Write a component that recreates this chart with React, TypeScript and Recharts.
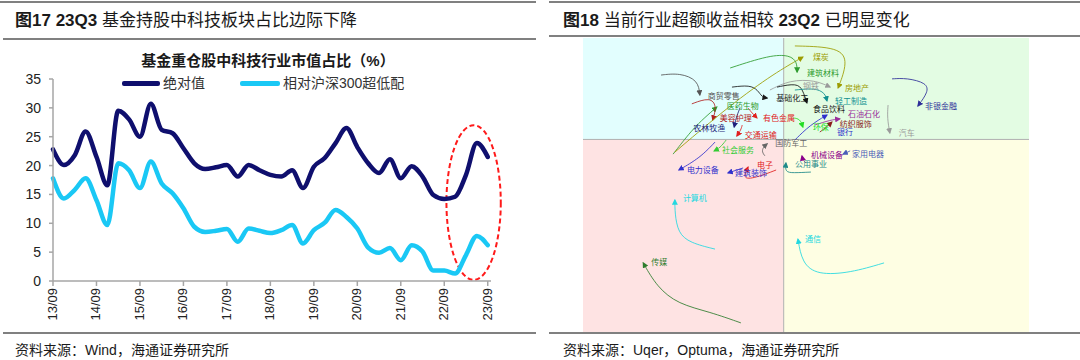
import React from 'react';
import { LineChart, Line, XAxis, YAxis, ReferenceArea, ReferenceLine, ComposedChart } from 'recharts';

const SANS = "'Liberation Sans', Arial, 'Noto Sans CJK SC', sans-serif";

// 图17：基金重仓股中科技行业市值占比（%），季度数据 13Q3 - 23Q3
const yearTicks = [0, 4, 8, 12, 16, 20, 24, 28, 32, 36, 40];
const yearLabels = ['13/09', '14/09', '15/09', '16/09', '17/09', '18/09', '19/09', '20/09', '21/09', '22/09', '23/09'];
const shareTicks = [0, 5, 10, 15, 20, 25, 30, 35];

const absoluteShare = [
  22.8, 20.1, 21.8, 25.9, 21.5, 16.6, 29.5, 28.0, 25.0, 30.7, 26.2, 25.6, 23.0, 20.4,
  19.4, 19.7, 20.1, 18.1, 20.1, 19.2, 18.4, 18.1, 19.2, 16.1, 19.8, 21.3, 23.9, 26.5,
  23.2, 20.4, 18.7, 21.1, 17.8, 19.9, 18.1, 14.9, 14.2, 14.6, 18.4, 23.9, 21.5,
];
const relativeShare = [
  17.8, 14.3, 15.8, 17.8, 14.0, 9.7, 20.4, 19.2, 16.1, 20.7, 16.9, 15.2, 12.6, 9.4,
  8.5, 8.7, 9.0, 6.8, 9.1, 8.7, 8.3, 8.8, 9.7, 6.5, 8.8, 10.1, 12.3, 11.1,
  9.1, 5.8, 4.9, 5.7, 3.6, 6.2, 5.1, 1.8, 1.8, 1.3, 4.5, 7.8, 6.2,
];

// 红色虚线圈出的区间（季度序号 / 占比）
const highlightQuarters = [36.2, 41.2];
const highlightShare = [0.2, 27];

const lineData = absoluteShare.map((v, i) => ({ q: i, abs: v, rel: relativeShare[i] }));

// 图18：行业相对强弱轨迹（RS-Ratio / RS-Momentum，中心 100）
const ratioDomain = [95.5, 105.5];
const momentumDomain = [93.45, 103.45];

const industryNames = [
  '商贸零售', '医药生物', '美容护理', '农林牧渔', '交通运输', '有色金属', '基础化工', '煤炭',
  '建筑材料', '房地产', '钢铁', '食品饮料', '轻工制造', '石油石化', '纺织服饰', '环保',
  '银行', '非银金融', '汽车', '国防军工', '社会服务', '电力设备', '电子', '建筑装饰',
  '计算机', '传媒', '机械设备', '家用电器', '公用事业', '通信',
];

const rsRatio = [
  [97.25, 97.67, 98.08, 98.12],
  [97.52, 97.94, 98.24, 98.5],
  [97.94, 98.35, 98.5, 98.41],
  [99.02, 98.93, 98.89],
  [99.07, 99.04, 98.95],
  [99.2, 99.29, 99.4],
  [98.84, 99.24, 99.42, 99.51, 99.63],
  [97.56, 98.8, 99.8, 100.43],
  [98.8, 99.69, 100.14, 100.3, 100.3],
  [100.25, 101.26, 101.44, 101.22],
  [99.69, 100.14, 100.7, 101.04],
  [99.85, 100.3, 100.43, 100.52],
  [100.25, 100.7, 100.93, 100.97],
  [100.7, 101.04, 101.26],
  [100.81, 100.99, 101.08],
  [100.21, 100.37, 100.43],
  [100.25, 100.59, 100.97],
  [102.43, 102.76, 103.21, 103.24, 103.01],
  [102.34, 102.32, 102.38],
  [99.58, 99.51, 99.54, 99.63],
  [98.71, 98.57, 98.44],
  [98.46, 98.12, 97.65],
  [99.83, 99.42, 99.07, 99.2],
  [99.09, 98.75],
  [98.46, 97.9, 97.63, 97.56, 97.56],
  [99.04, 98.35, 97.63, 97.16, 96.85],
  [100.5, 100.43, 100.41],
  [101.49, 101.33],
  [100.61, 100.21, 100.03, 100.05],
  [102.25, 101.49, 100.75, 100.41, 100.32],
];

const rsMomentum = [
  [102.19, 102.26, 102.02, 101.51],
  [99.5, 100.32, 100.76, 101.1],
  [101.21, 101.44, 101.14, 100.66],
  [101.07, 100.73, 100.42],
  [100.49, 100.32, 100.12],
  [101.07, 100.9, 100.73],
  [101.78, 101.85, 101.68, 101.44, 101.41],
  [99.57, 101.17, 102.26, 102.8],
  [102.43, 102.87, 102.87, 102.63, 102.29],
  [103.18, 103.14, 102.63, 101.75],
  [101.68, 102.02, 102.02, 101.78],
  [101.78, 101.92, 101.68, 101.24],
  [101.68, 101.75, 101.58, 101.31],
  [100.49, 100.66, 100.7],
  [100.25, 100.46, 100.59],
  [100.73, 100.7, 100.42],
  [99.98, 100.49, 100.83],
  [102.06, 102.09, 101.92, 101.61, 101.14],
  [101.17, 100.73, 100.22],
  [99.44, 99.57, 99.74, 99.85],
  [99.98, 99.71, 99.61],
  [99.91, 99.37, 98.96],
  [98.96, 98.72, 98.62, 99.06],
  [99.03, 98.86],
  [96.27, 96.48, 96.82, 97.5, 97.94],
  [93.76, 94.13, 94.4, 94.98, 95.8],
  [99.2, 99.3, 99.44],
  [99.61, 99.5],
  [98.89, 98.86, 98.89, 99.2],
  [95.8, 95.46, 95.39, 95.8, 96.61],
];

// styles for each trail (colour, label offset from arrow tip in px, anchor)
const industryColors = [
  '#555555', '#2E9B2E', '#B22222', '#1F1F7A', '#E02020', '#E02020', '#1A1A1A', '#9C9C00',
  '#2E9B2E', '#9C9C00', '#9A9A9A', '#111111', '#109090', '#9A2E9A', '#8B1A1A', '#22DD22',
  '#2E2ECC', '#2E2E99', '#9A9A9A', '#666666', '#33CC33', '#3030CC', '#E02020', '#3030CC',
  '#22D8E0', '#2E7D2E', '#8B008B', '#4A5DB8', '#1E8A8A', '#22D8E0',
];
const labelOffsets: [number, number, 'start' | 'end'][] = [
  [8, 1, 'start'], [10, -1, 'start'], [7, -2, 'start'], [-9, 1, 'end'], [8, 0, 'start'],
  [6, 1, 'start'], [9, 1, 'start'], [10, 0, 'start'], [10, 1, 'start'], [7, 1, 'start'],
  [-11, -1, 'end'], [6, 7, 'start'], [8, 1, 'start'], [8, -4, 'start'], [8, 2, 'start'],
  [10, 0, 'start'], [10, 17, 'start'], [7, 1, 'start'], [9, 1, 'start'], [8, 0, 'start'],
  [8, 0, 'start'], [8, 0, 'start'], [9, -2, 'start'], [7, 1, 'start'], [8, -1, 'start'],
  [8, 0, 'start'], [9, 0, 'start'], [9, 0, 'start'], [9, 2, 'start'], [7, 0, 'start'],
];

const trails = industryNames.map((name, i) =>
  rsRatio[i].map((x, j) => ({ x, y: rsMomentum[i][j] }))
);

const YearTick = ({ x, y, payload }: any) => {
  const idx = yearTicks.indexOf(payload.value);
  return (
    <text
      x={x}
      y={y}
      transform={`rotate(-90 ${x} ${y})`}
      textAnchor="end"
      dy={4}
      fontSize={13}
      fontFamily={SANS}
      fill="#222"
    >
      {yearLabels[idx]}
    </text>
  );
};

const Ellipse = (p: any) => (
  <ellipse
    cx={p.x + p.width / 2}
    cy={p.y + p.height / 2}
    rx={p.width / 2}
    ry={p.height / 2}
    fill="none"
    stroke="#FF1A1A"
    strokeWidth={2}
    strokeDasharray="5 3"
  />
);

const makeLabelDot = (i: number) => (props: any) => {
  const { cx, cy, index } = props;
  if (index !== rsRatio[i].length - 1 || cx == null) return <g key={`d-${i}-${index}`} />;
  const [dx, dy, anchor] = labelOffsets[i];
  return (
    <text
      key={`d-${i}-${index}`}
      x={cx + dx}
      y={cy + dy}
      textAnchor={anchor}
      dominantBaseline="central"
      fontSize={8}
      fontFamily={SANS}
      fill={industryColors[i]}
    >
      {industryNames[i]}
    </text>
  );
};

const rule = (left: number, top: number, width: number): React.CSSProperties => ({
  position: 'absolute', left, top, width, height: 2, background: '#808080',
});

const textBox = (left: number, top: number, size: number): React.CSSProperties => ({
  position: 'absolute', left, top, fontSize: size, lineHeight: `${size + 4}px`,
  color: '#1a1a1a', whiteSpace: 'nowrap', fontFamily: SANS,
});

export default function App() {
  return (
    <div style={{ position: 'fixed', left: 0, top: 0, width: 1080, height: 360, background: '#fff', overflow: 'hidden', fontFamily: SANS }}>
      {/* left panel frame */}
      <div style={rule(0, 1, 536)} />
      <div style={rule(3, 38, 533)} />
      <div style={rule(3, 332, 533)} />
      <div style={textBox(15, 10, 17)}>
        <b>图17 23Q3 </b>基金持股中科技板块占比边际下降
      </div>
      <div style={{ ...textBox(0, 51, 15), width: 536, textAlign: 'center', fontWeight: 600 }}>
        基金重仓股中科技行业市值占比（%）
      </div>
      <div style={{ ...textBox(122, 74, 14), display: 'flex', alignItems: 'center', color: '#333' }}>
        <span style={{ width: 38, height: 5, background: '#0F0F6E', borderRadius: 2, marginRight: 3 }} />
        <span style={{ marginRight: 35 }}>绝对值</span>
        <span style={{ width: 40, height: 5, background: '#1AC8F5', borderRadius: 2, marginRight: 3 }} />
        <span>相对沪深300超低配</span>
      </div>
      <div style={textBox(15, 341, 14)}>资料来源：Wind，海通证券研究所</div>

      <div style={{ position: 'absolute', left: 0, top: 0 }}>
        <LineChart width={540} height={360} data={lineData} margin={{ top: 79, right: 49, bottom: 34, left: 13 }}>
          <XAxis
            dataKey="q"
            type="number"
            domain={[0, 40.3]}
            ticks={yearTicks}
            interval={0}
            height={45}
            tick={<YearTick />}
            tickSize={5}
            axisLine={{ stroke: '#A6A6A6', strokeWidth: 1.5 }}
            tickLine={{ stroke: '#A6A6A6', strokeWidth: 1.5 }}
          />
          <YAxis
            type="number"
            domain={[0, 35]}
            ticks={shareTicks}
            interval={0}
            width={40}
            tickSize={4}
            tickMargin={8}
            tick={{ fill: '#222', fontSize: 14, fontFamily: SANS }}
            axisLine={{ stroke: '#A6A6A6', strokeWidth: 1.5 }}
            tickLine={{ stroke: '#A6A6A6', strokeWidth: 1.5 }}
          />
          <Line
            type="monotone"
            dataKey="abs"
            stroke="#0F0F6E"
            strokeWidth={4.5}
            strokeLinejoin="round"
            strokeLinecap="round"
            dot={false}
            activeDot={false}
            isAnimationActive={false}
          />
          <Line
            type="monotone"
            dataKey="rel"
            stroke="#1AC8F5"
            strokeWidth={4.5}
            strokeLinejoin="round"
            strokeLinecap="round"
            dot={false}
            activeDot={false}
            isAnimationActive={false}
          />
          <ReferenceArea
            x1={highlightQuarters[0]}
            x2={highlightQuarters[1]}
            y1={highlightShare[0]}
            y2={highlightShare[1]}
            ifOverflow="visible"
            shape={<Ellipse />}
          />
        </LineChart>
      </div>

      {/* right panel frame */}
      <div style={rule(549, 1, 531)} />
      <div style={rule(549, 35, 531)} />
      <div style={rule(549, 332, 531)} />
      <div style={textBox(563, 10, 17)}>
        <b>图18 </b>当前行业超额收益相较 <b>23Q2</b> 已明显变化
      </div>
      <div style={textBox(563, 341, 14)}>资料来源：Uqer，Optuma，海通证券研究所</div>

      <div style={{ position: 'absolute', left: 583, top: 38 }}>
        <ComposedChart width={446} height={294} margin={{ top: 0, right: 0, bottom: 0, left: 0 }}>
          <defs>
            {industryColors.map((c, i) => (
              <marker
                key={`m-${i}`}
                id={`arrow-${i}`}
                viewBox="0 0 10 10"
                refX="8"
                refY="5"
                markerWidth="6"
                markerHeight="6"
                markerUnits="userSpaceOnUse"
                orient="auto"
              >
                <path d="M0,0 L10,5 L0,10 z" fill={c} />
              </marker>
            ))}
          </defs>
          <XAxis dataKey="x" type="number" domain={ratioDomain} hide allowDataOverflow />
          <YAxis dataKey="y" type="number" domain={momentumDomain} hide allowDataOverflow />
          <ReferenceArea x1={ratioDomain[0]} x2={100} y1={100} y2={momentumDomain[1]} fill="#E2FEFE" fillOpacity={1} stroke="none" />
          <ReferenceArea x1={100} x2={ratioDomain[1]} y1={100} y2={momentumDomain[1]} fill="#E3FCE3" fillOpacity={1} stroke="none" />
          <ReferenceArea x1={ratioDomain[0]} x2={100} y1={momentumDomain[0]} y2={100} fill="#FEE3E3" fillOpacity={1} stroke="none" />
          <ReferenceArea x1={100} x2={ratioDomain[1]} y1={momentumDomain[0]} y2={100} fill="#FEFEE3" fillOpacity={1} stroke="none" />
          <ReferenceLine x={100} stroke="#B0B0B0" strokeWidth={1} />
          <ReferenceLine y={100} stroke="#B0B0B0" strokeWidth={1} />
          {trails.map((pts, i) => (
            <Line
              key={industryNames[i]}
              data={pts}
              dataKey="y"
              type="basis"
              stroke={industryColors[i]}
              strokeOpacity={0.85}
              strokeWidth={1}
              markerEnd={`url(#arrow-${i})`}
              dot={makeLabelDot(i)}
              activeDot={false}
              isAnimationActive={false}
            />
          ))}
        </ComposedChart>
      </div>
    </div>
  );
}
